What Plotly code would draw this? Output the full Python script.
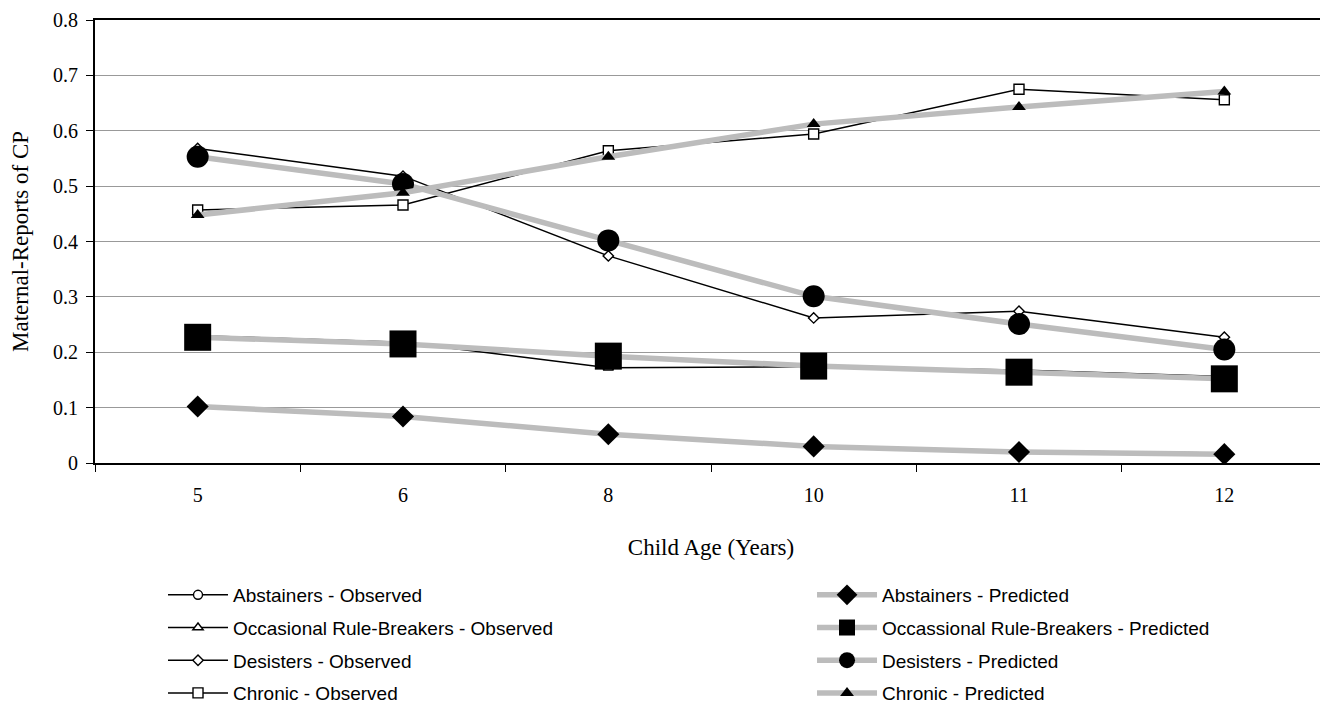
import plotly.graph_objects as go

ages = ["5", "6", "8", "10", "11", "12"]

abst_obs = [0.103, 0.083, 0.051, 0.030, 0.022, 0.018]
occ_obs = [0.230, 0.218, 0.172, 0.174, 0.168, 0.156]
des_obs = [0.568, 0.518, 0.374, 0.262, 0.274, 0.227]
chr_obs = [0.457, 0.466, 0.564, 0.594, 0.675, 0.656]

abst_pred = [0.102, 0.084, 0.052, 0.030, 0.020, 0.016]
occ_pred = [0.227, 0.215, 0.193, 0.175, 0.164, 0.152]
des_pred = [0.553, 0.504, 0.402, 0.301, 0.251, 0.205]
chr_pred = [0.448, 0.488, 0.553, 0.612, 0.643, 0.671]

yticks = [0, 0.1, 0.2, 0.3, 0.4, 0.5, 0.6, 0.7, 0.8]
ytick_labels = ["0", "0.1", "0.2", "0.3", "0.4", "0.5", "0.6", "0.7", "0.8"]

GRAY = "#bcbcbc"
fig = go.Figure()

obs = [
    ("Abstainers - Observed", abst_obs, "circle", 9),
    ("Occasional Rule-Breakers - Observed", occ_obs, "triangle-up", 9),
    ("Desisters - Observed", des_obs, "diamond", 8),
    ("Chronic - Observed", chr_obs, "square", 10),
]
pred = [
    ("Abstainers - Predicted", abst_pred, "diamond", 17),
    ("Occassional Rule-Breakers - Predicted", occ_pred, "square", 27),
    ("Desisters - Predicted", des_pred, "circle", 22),
    ("Chronic - Predicted", chr_pred, "triangle-up", 12),
]

for i, (name, vals, sym, size) in enumerate(obs):
    fig.add_trace(go.Scatter(
        x=ages, y=vals, name=name, mode="lines+markers",
        legend="legend", legendgroup=f"o{i}",
        line=dict(color="black", width=1.5),
        marker=dict(symbol=sym, size=size, color="white",
                    line=dict(color="black", width=1.4)),
    ))
for i, (name, vals, sym, size) in enumerate(pred):
    fig.add_trace(go.Scatter(
        x=ages, y=vals, name=name, mode="lines+markers",
        legend="legend2", legendgroup=f"p{i}",
        line=dict(color=GRAY, width=5.5),
        marker=dict(symbol=sym, size=size, color="black",
                    line=dict(color="black", width=0)),
    ))

legend_font = dict(family="Liberation Sans", size=19, color="black")
fig.update_layout(
    width=1320, height=699,
    margin=dict(l=87, r=1, t=12, b=244, autoexpand=False),
    paper_bgcolor="white", plot_bgcolor="white",
    font=dict(family="Liberation Serif", color="black", size=20),
    showlegend=True,
    legend=dict(
        orientation="v", x=0.0552, y=-0.255, xanchor="left", yanchor="top",
        font=legend_font, itemwidth=60, tracegroupgap=5,
        bgcolor="rgba(0,0,0,0)",
    ),
    legend2=dict(
        orientation="v", x=0.582, y=-0.255, xanchor="left", yanchor="top",
        font=legend_font, itemwidth=60, tracegroupgap=5,
        bgcolor="rgba(0,0,0,0)",
    ),
    xaxis=dict(
        type="category", categoryorder="array", categoryarray=ages,
        range=[-0.5, 5.5], tickson="boundaries", ticks="outside", ticklen=7,
        tickcolor="black", showline=True, linecolor="black", linewidth=2,
        mirror=True, showgrid=False, ticklabelstandoff=13,
        tickfont=dict(family="Liberation Serif", size=20),
        title=dict(text="Child Age (Years)", standoff=34,
                   font=dict(family="Liberation Serif", size=23)),
    ),
    yaxis=dict(
        range=[0, 0.8], tickvals=yticks, ticktext=ytick_labels,
        ticks="outside", ticklen=7, tickcolor="black",
        showline=True, linecolor="black", linewidth=2, mirror=True,
        showgrid=True, gridcolor="#999999", gridwidth=1, zeroline=False,
        ticklabelstandoff=4,
        tickfont=dict(family="Liberation Serif", size=20),
        title=dict(text="Maternal-Reports of CP", standoff=18,
                   font=dict(family="Liberation Serif", size=23)),
    ),
)

fig.write_html("out.html")
